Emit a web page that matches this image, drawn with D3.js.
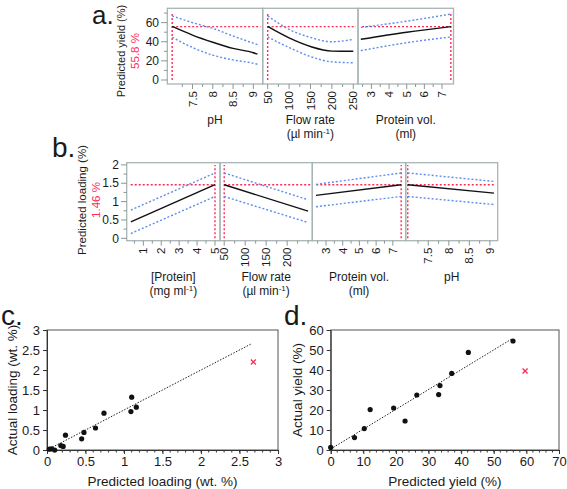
<!DOCTYPE html>
<html><head><meta charset="utf-8">
<script src="https://cdn.jsdelivr.net/npm/d3@7"></script>
<style>body{margin:0;background:#fff}svg{display:block}text{font-family:"Liberation Sans",Arial,sans-serif;fill:#1a1a1a}</style>
</head><body><svg id="chart" width="567" height="489"></svg>
<script>
// ---------- Panel a: predicted yield profiles ----------
const yieldTarget = 55.8;
const aPH = [7.0, 7.5, 8.0, 8.5, 9.0, 9.1];
const aPHMid = [56, 47, 39.5, 33, 28.5, 27];
const aPHHi = [67, 60, 54, 46, 38.5, 37];
const aPHLo = [44.7, 34, 26, 21, 17.5, 16.5];
const aFlow = [50, 100, 150, 200, 250];
const aFlowMid = [56, 44, 35, 30.2, 30];
const aFlowHi = [67, 53, 44.5, 40, 42.5];
const aFlowLo = [45, 34, 24.5, 19, 18];
const aVol = [2.4, 5, 7.5];
const aVolMid = [42.6, 50, 55.8];
const aVolHi = [55, 61.5, 69];
const aVolLo = [30.7, 39, 45];
const aYTicks = [0, 20, 40, 60];

// ---------- Panel b: predicted loading profiles ----------
const loadTarget = 1.46;
const bConc = [0.3, 5];
const bConcMid = [0.45, 1.46];
const bConcHi = [0.77, 1.78];
const bConcLo = [0.13, 1.14];
const bFlow = [50, 250];
const bFlowMid = [1.46, 0.74];
const bFlowHi = [1.78, 1.05];
const bFlowLo = [1.14, 0.43];
const bVol = [2.4, 7.5];
const bVolMid = [1.17, 1.46];
const bVolHi = [1.47, 1.78];
const bVolLo = [0.86, 1.14];
const bPH = [7.0, 9.1];
const bPHMid = [1.46, 1.23];
const bPHHi = [1.78, 1.55];
const bPHLo = [1.14, 0.92];
const bYTicks = [0, 0.5, 1, 1.5, 2];
const bYTickLabels = ["0", "0.5", "1", "1.5", "2"];

// ---------- Panel c: loading ----------
const cPred = [0.03, 0.06, 0.1, 0.18, 0.21, 0.24, 0.45, 0.48, 0.63, 0.74, 1.09, 1.1, 1.16];
const cActual = [0.02, 0.03, 0.0, 0.11, 0.09, 0.37, 0.28, 0.44, 0.55, 0.92, 0.96, 1.32, 1.07];
const cOutlier = [2.68, 2.2];
const cTrend = [[0, 0], [2.65, 2.65]];
const cTicks = [0, 0.5, 1, 1.5, 2, 2.5, 3];

// ---------- Panel d: yield ----------
const dPred = [0, 7.3, 10.3, 12.1, 19.3, 22.8, 26.4, 33.1, 33.5, 37.1, 42.2, 55.9];
const dActual = [1.3, 6.2, 10.7, 20.2, 21, 14.5, 27.5, 27.7, 32.2, 38.3, 48.8, 54.5];
const dOutlier = [59.6, 39.5];
const dTrend = [[0, 0.5], [55.5, 55.5]];
const dXTicks = [0, 10, 20, 30, 40, 50, 60, 70];
const dYTicks = [0, 10, 20, 30, 40, 50, 60];

const svg = d3.select("#chart");
const RED = "#ff2a55", BLUE = "#5c8df0", FRAME = "#a9b4b4";

function multiText(g, x, y, lines, size) {
  lines.forEach((ln, i) => {
    const t = g.append("text").attr("x", x).attr("y", y + i * 13.5)
      .attr("text-anchor", "middle").style("font-size", size + "px");
    if (Array.isArray(ln)) {
      t.append("tspan").text(ln[0]);
      t.append("tspan").attr("dy", -4).style("font-size", "8px").text(ln[1]);
      t.append("tspan").attr("dy", 4).text(ln[2]);
    } else t.text(ln);
  });
}

function profile(g, o) {
  const x = d3.scaleLinear().domain(o.dom).range([o.x0, o.x1]);
  const y = o.y;
  const pg = g.append("g");
  pg.append("rect").attr("x", o.x0).attr("y", y.range()[1]).attr("width", o.x1 - o.x0)
    .attr("height", y.range()[0] - y.range()[1]).attr("fill", "none").attr("stroke", FRAME).attr("stroke-width", 1.3);
  const line = d3.line().x(d => x(d[0])).y(d => y(d[1])).curve(d3.curveMonotoneX);
  const redLeft = o.redAtLeft;
  const rx = x(o.redX);
  const hx0 = redLeft ? rx : o.x0 + 4;
  const hx1 = redLeft ? o.x1 - 2 : rx;
  pg.append("line").attr("x1", hx0).attr("x2", hx1).attr("y1", y(o.target)).attr("y2", y(o.target))
    .attr("stroke", RED).attr("stroke-width", 1.4).attr("stroke-dasharray", "2,2");
  pg.append("line").attr("x1", rx).attr("x2", rx).attr("y1", y(0)).attr("y2", y(o.redTop))
    .attr("stroke", RED).attr("stroke-width", 1.4).attr("stroke-dasharray", "2,2");
  [o.hi, o.lo].forEach(arr => {
    pg.append("path").attr("d", line(o.xs.map((v, i) => [v, arr[i]])))
      .attr("fill", "none").attr("stroke", BLUE).attr("stroke-width", 1.4).attr("stroke-dasharray", "2,2");
  });
  pg.append("path").attr("d", line(o.xs.map((v, i) => [v, o.mid[i]])))
    .attr("fill", "none").attr("stroke", "#111").attr("stroke-width", 1.4);
  const yb = y.range()[0];
  o.minor.forEach(v => pg.append("line").attr("x1", x(v)).attr("x2", x(v)).attr("y1", yb).attr("y2", yb + 3).attr("stroke", "#8a9696"));
  o.major.forEach((v, i) => {
    pg.append("line").attr("x1", x(v)).attr("x2", x(v)).attr("y1", yb).attr("y2", yb + 5).attr("stroke", "#8a9696");
    pg.append("text").attr("transform", `translate(${x(v)},${yb + 7}) rotate(-90)`)
      .attr("text-anchor", "end").attr("dy", "0.35em").style("font-size", "11.5px").text(o.majorLabels[i]);
  });
  multiText(g, (o.x0 + o.x1) / 2, o.titleY, o.title, 12);
}

// ===== Panel a =====
{
  const g = svg.append("g");
  const y = d3.scaleLinear().domain([-4.2, 75]).range([84, 8.3]);
  const common = {y, target: yieldTarget, redTop: 70, titleY: 124};
  profile(g, {...common, x0: 167.3, x1: 262.7, dom: [6.88, 9.23], xs: aPH, mid: aPHMid, hi: aPHHi, lo: aPHLo,
    redX: 7.0, redAtLeft: true, major: [7.5, 8, 8.5, 9], majorLabels: ["7.5", "8", "8.5", "9"], minor: [7.25, 7.75, 8.25, 8.75],
    title: ["pH"]});
  profile(g, {...common, x0: 262.7, x1: 358, dom: [38.4, 261], xs: aFlow, mid: aFlowMid, hi: aFlowHi, lo: aFlowLo,
    redX: 50, redAtLeft: true, major: [50, 100, 150, 200, 250], majorLabels: ["50", "100", "150", "200", "250"], minor: [75, 125, 175, 225],
    title: ["Flow rate", ["(µl min", "-1", ")"]]});
  profile(g, {...common, x0: 358, x1: 453.5, dom: [2.24, 7.65], xs: aVol, mid: aVolMid, hi: aVolHi, lo: aVolLo,
    redX: 7.5, redAtLeft: false, major: [3, 4, 5, 6, 7], majorLabels: ["3", "4", "5", "6", "7"], minor: [2.5, 3.5, 4.5, 5.5, 6.5],
    title: ["Protein vol.", "(ml)"]});
  aYTicks.forEach(v => {
    g.append("line").attr("x1", 161).attr("x2", 167.3).attr("y1", y(v)).attr("y2", y(v)).attr("stroke", "#8a9696");
    g.append("text").attr("x", 159).attr("y", y(v)).attr("dy", "0.35em").attr("text-anchor", "end").style("font-size", "12px").text(v);
  });
  [10, 30, 50, 70].forEach(v => g.append("line").attr("x1", 164).attr("x2", 167.3).attr("y1", y(v)).attr("y2", y(v)).attr("stroke", "#8a9696"));
  g.append("text").attr("transform", "translate(125,51) rotate(-90)").attr("text-anchor", "middle").style("font-size", "11px").text("Predicted yield (%)");
  g.append("text").attr("transform", "translate(139,51) rotate(-90)").attr("text-anchor", "middle").style("font-size", "11.5px").style("fill", RED).text("55.8 %");
  g.append("text").attr("x", 92).attr("y", 23.6).style("font-size", "26px").text("a.");
}

// ===== Panel b =====
{
  const g = svg.append("g");
  const y = d3.scaleLinear().domain([-0.065, 2.06]).range([240.7, 162.7]);
  const common = {y, target: loadTarget, redTop: 2, titleY: 281};
  profile(g, {...common, x0: 126.7, x1: 220, dom: [0.07, 5.28], xs: bConc, mid: bConcMid, hi: bConcHi, lo: bConcLo,
    redX: 5, redAtLeft: false, major: [1, 2, 3, 4, 5], majorLabels: ["1", "2", "3", "4", "5"], minor: [0.5, 1.5, 2.5, 3.5, 4.5],
    title: ["[Protein]", ["(mg ml", "-1", ")"]]});
  profile(g, {...common, x0: 220, x1: 312.3, dom: [40, 260], xs: bFlow, mid: bFlowMid, hi: bFlowHi, lo: bFlowLo,
    redX: 50, redAtLeft: true, major: [50, 100, 150, 200], majorLabels: ["50", "100", "150", "200"], minor: [75, 125, 175, 225, 250],
    title: ["Flow rate", ["(µl min", "-1", ")"]]});
  profile(g, {...common, x0: 312.3, x1: 405.7, dom: [2.18, 7.77], xs: bVol, mid: bVolMid, hi: bVolHi, lo: bVolLo,
    redX: 7.5, redAtLeft: false, major: [3, 4, 5, 6, 7], majorLabels: ["3", "4", "5", "6", "7"], minor: [2.5, 3.5, 4.5, 5.5, 6.5],
    title: ["Protein vol.", "(ml)"]});
  profile(g, {...common, x0: 405.7, x1: 497.7, dom: [6.95, 9.19], xs: bPH, mid: bPHMid, hi: bPHHi, lo: bPHLo,
    redX: 7.0, redAtLeft: true, major: [7.5, 8, 8.5, 9], majorLabels: ["7.5", "8", "8.5", "9"], minor: [7.25, 7.75, 8.25, 8.75],
    title: ["pH"]});
  bYTicks.forEach((v, i) => {
    g.append("line").attr("x1", 121).attr("x2", 126.7).attr("y1", y(v)).attr("y2", y(v)).attr("stroke", "#8a9696");
    g.append("text").attr("x", 119).attr("y", y(v)).attr("dy", "0.35em").attr("text-anchor", "end").style("font-size", "12px").text(bYTickLabels[i]);
  });
  [0.25, 0.75, 1.25, 1.75].forEach(v => g.append("line").attr("x1", 123.5).attr("x2", 126.7).attr("y1", y(v)).attr("y2", y(v)).attr("stroke", "#8a9696"));
  g.append("text").attr("transform", "translate(86,200) rotate(-90)").attr("text-anchor", "middle").style("font-size", "11.5px").text("Predicted loading (%)");
  g.append("text").attr("transform", "translate(100,200) rotate(-90)").attr("text-anchor", "middle").style("font-size", "11.5px").style("fill", RED).text("1.46 %");
  g.append("text").attr("x", 52).attr("y", 157).style("font-size", "28px").text("b.");
}

// ===== Scatter panels =====
function scatter(o) {
  const g = svg.append("g");
  const x = d3.scaleLinear().domain(o.xd).range([o.x0, o.x1]);
  const y = d3.scaleLinear().domain(o.yd).range([450, 330]);
  g.append("rect").attr("x", o.x0).attr("y", 330).attr("width", o.x1 - o.x0).attr("height", 120)
    .attr("fill", "none").attr("stroke", "#555").attr("stroke-width", 1);
  const ax = g.append("g").attr("transform", "translate(0,450)")
    .call(d3.axisBottom(x).tickValues(o.xt).tickSize(4).tickFormat(d => d));
  const ay = g.append("g").attr("transform", `translate(${o.x0},0)`)
    .call(d3.axisLeft(y).tickValues(o.yt).tickSize(4).tickFormat(d => d));
  [ax, ay].forEach(a => {
    a.select(".domain").attr("stroke", "#333");
    a.selectAll(".tick line").attr("stroke", "#333");
    a.selectAll("text").style("font-size", "13px").style("font-family", '"Liberation Sans",Arial,sans-serif').attr("fill", "#1a1a1a");
  });
  o.xMinor.forEach(v => g.append("line").attr("x1", x(v)).attr("x2", x(v)).attr("y1", 450).attr("y2", 452.5).attr("stroke", "#333"));
  g.append("path").attr("d", d3.line().x(d => x(d[0])).y(d => y(d[1]))(o.trend))
    .attr("fill", "none").attr("stroke", "#222").attr("stroke-width", 1).attr("stroke-dasharray", "1.5,1.5");
  g.selectAll("circle.p").data(o.px).join("circle").attr("cx", d => x(d)).attr("cy", (d, i) => y(o.py[i]))
    .attr("r", 2.6).attr("fill", "#111");
  const ox = x(o.out[0]), oy = y(o.out[1]);
  g.append("path").attr("d", `M${ox - 2.5},${oy - 2.5}L${ox + 2.5},${oy + 2.5}M${ox - 2.5},${oy + 2.5}L${ox + 2.5},${oy - 2.5}`)
    .attr("stroke", RED).attr("stroke-width", 1.3);
  g.append("text").attr("x", (o.x0 + o.x1) / 2).attr("y", 486).attr("text-anchor", "middle").style("font-size", "13.5px").text(o.xlab);
  g.append("text").attr("transform", `translate(${o.ylx},390) rotate(-90)`).attr("text-anchor", "middle").style("font-size", "13.5px").text(o.ylab);
  g.append("text").attr("x", o.lx).attr("y", 325).style("font-size", "28px").text(o.letter);
}
scatter({x0: 47, x1: 278, xd: [0, 3], yd: [0, 3], xt: cTicks, yt: cTicks, xMinor: d3.range(0.1, 3, 0.1),
  px: cPred, py: cActual, out: cOutlier, trend: cTrend, xlab: "Predicted loading (wt. %)", ylab: "Actual loading (wt. %)", ylx: 17, lx: 1, letter: "c."});
scatter({x0: 330.7, x1: 559, xd: [0, 70], yd: [0, 60], xt: dXTicks, yt: dYTicks, xMinor: d3.range(2, 70, 2),
  px: dPred, py: dActual, out: dOutlier, trend: dTrend, xlab: "Predicted yield (%)", ylab: "Actual yield (%)", ylx: 302, lx: 284, letter: "d."});
</script></body></html>
